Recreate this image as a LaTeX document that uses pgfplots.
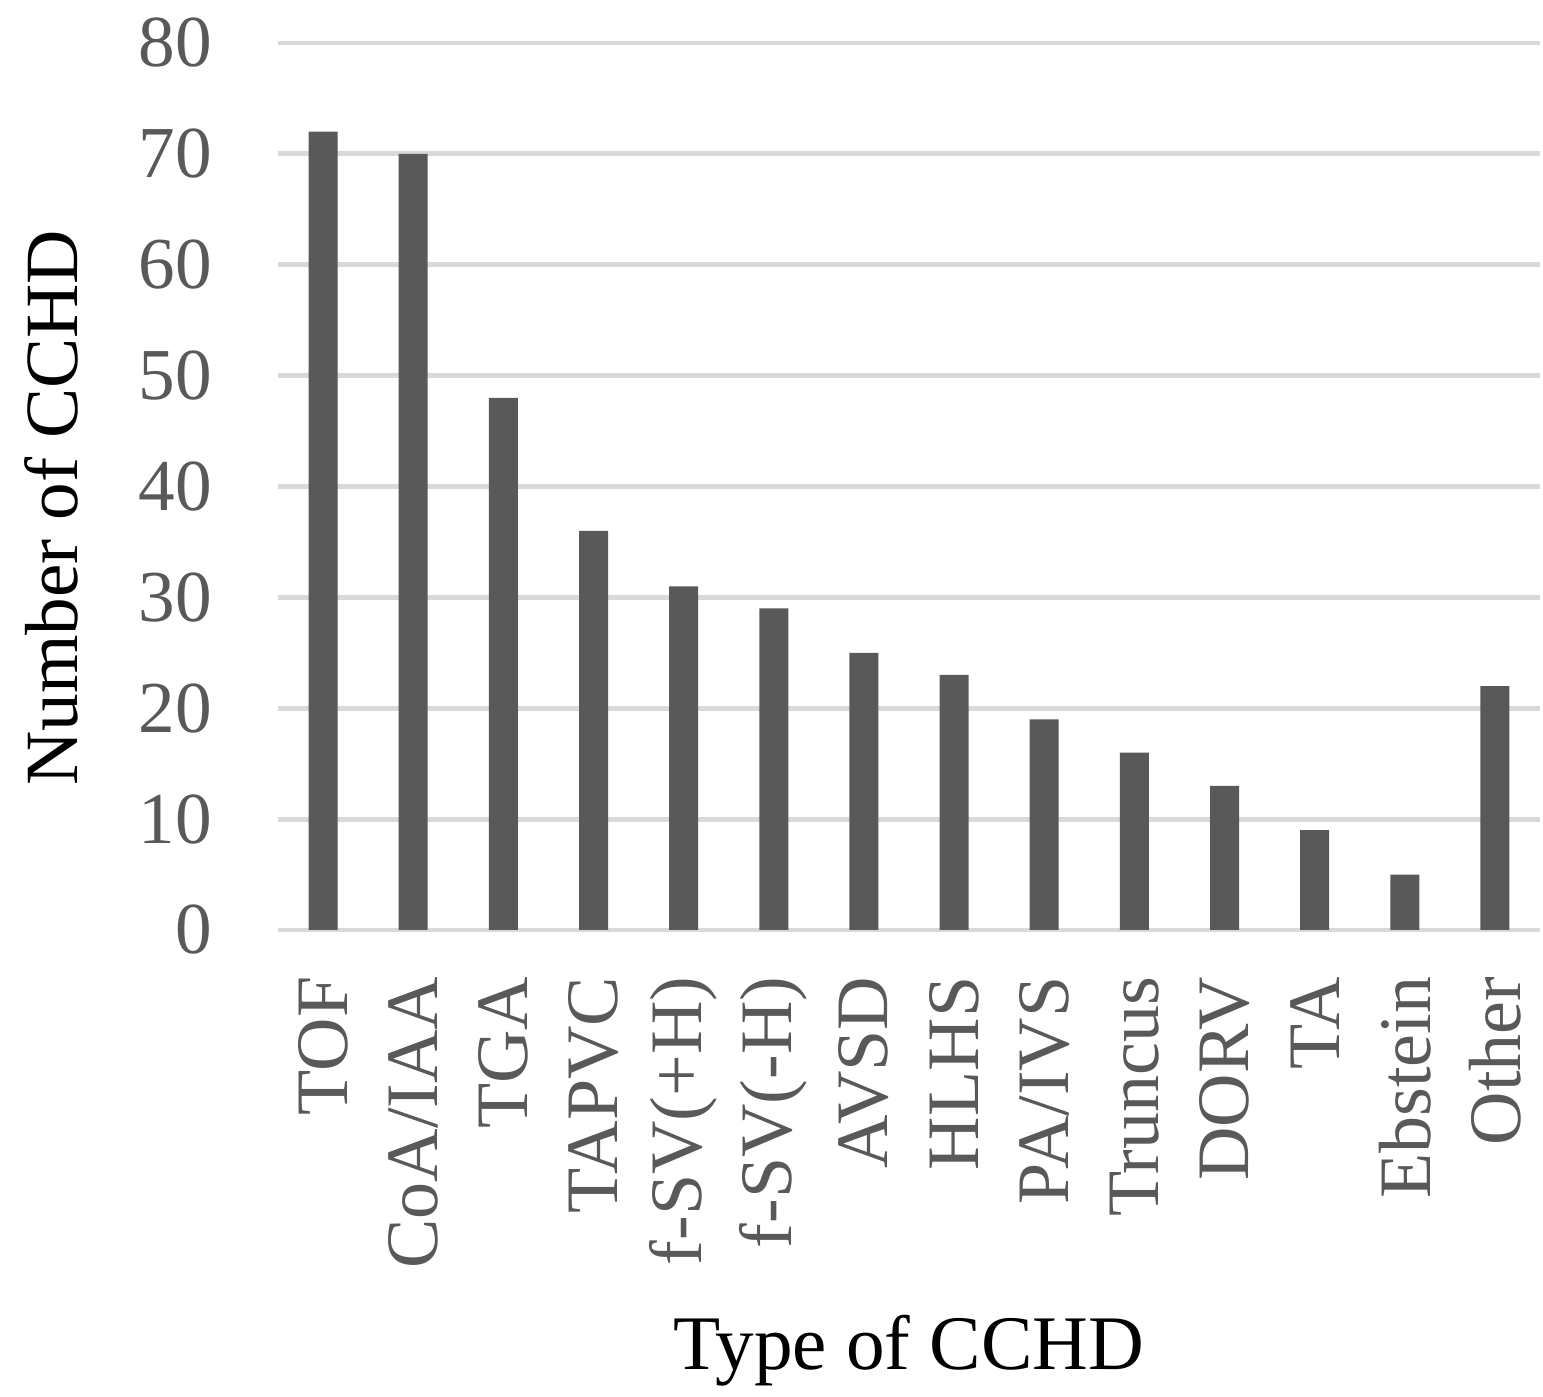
\documentclass[border=0pt]{standalone}
\usepackage{pgfplots}
\pgfplotsset{compat=1.18}
\usepackage{fontspec}
\setmainfont{Liberation Serif}
\definecolor{barc}{HTML}{595959}
\definecolor{gridc}{HTML}{D9D9D9}
\pgfplotstableread{
x y
0 72
1 70
2 48
3 36
4 31
5 29
6 25
7 23
8 19
9 16
10 13
11 9
12 5
13 22
}\datatable
\begin{document}
\begin{tikzpicture}
\begin{axis}[
  scale only axis,
  width=315.5pt, height=221.75pt,
  xmin=-0.5, xmax=13.5, ymin=0, ymax=80,
  ytick={0,10,...,80},
  xtick=data,
  xticklabels={TOF,CoA/IAA,TGA,TAPVC,f-SV(+H),f-SV(-H),AVSD,HLHS,PA/IVS,Truncus,DORV,TA,Ebstein,Other},
  major tick length=0pt,
  ymajorgrids,
  major grid style={color=gridc, line width=1.2pt},
  separate axis lines,
  axis x line*=bottom, axis y line*=left,
  y axis line style={draw=none},
  x axis line style={color=gridc, line width=1.2pt, -},
  /pgf/number format/assume math mode=true,
  yticklabel style={font=\fontsize{18.3pt}{22pt}\selectfont, color=barc, inner sep=0pt},
  yticklabel shift=16.25pt,
  xticklabel style={font=\fontsize{18.5pt}{22pt}\selectfont, color=barc, inner sep=0pt, rotate=90, anchor=east},
  xticklabel shift=11.5pt,
  xlabel={Type of CCHD},
  ylabel={Number of CCHD},
  xlabel style={font=\fontsize{19.3pt}{24pt}\selectfont, at={([yshift=-110pt]rel axis cs:0.5,0)}, anchor=base, inner sep=0pt},
  ylabel style={font=\fontsize{18.8pt}{24pt}\selectfont, at={([xshift=-50pt]rel axis cs:0,0.476)}, anchor=base, inner sep=0pt},
  clip=false,
]
\addplot[ybar, bar width=7.25pt, fill=barc, draw=none] table[x=x,y=y]{\datatable};
\path (rel axis cs:0,0) ++(-69.5pt,-116.75pt) coordinate (bbsw);
\path (rel axis cs:1,1) ++(0.75pt,10.75pt) coordinate (bbne);
\path (bbsw) rectangle (bbne);
\end{axis}
\end{tikzpicture}
\end{document}
